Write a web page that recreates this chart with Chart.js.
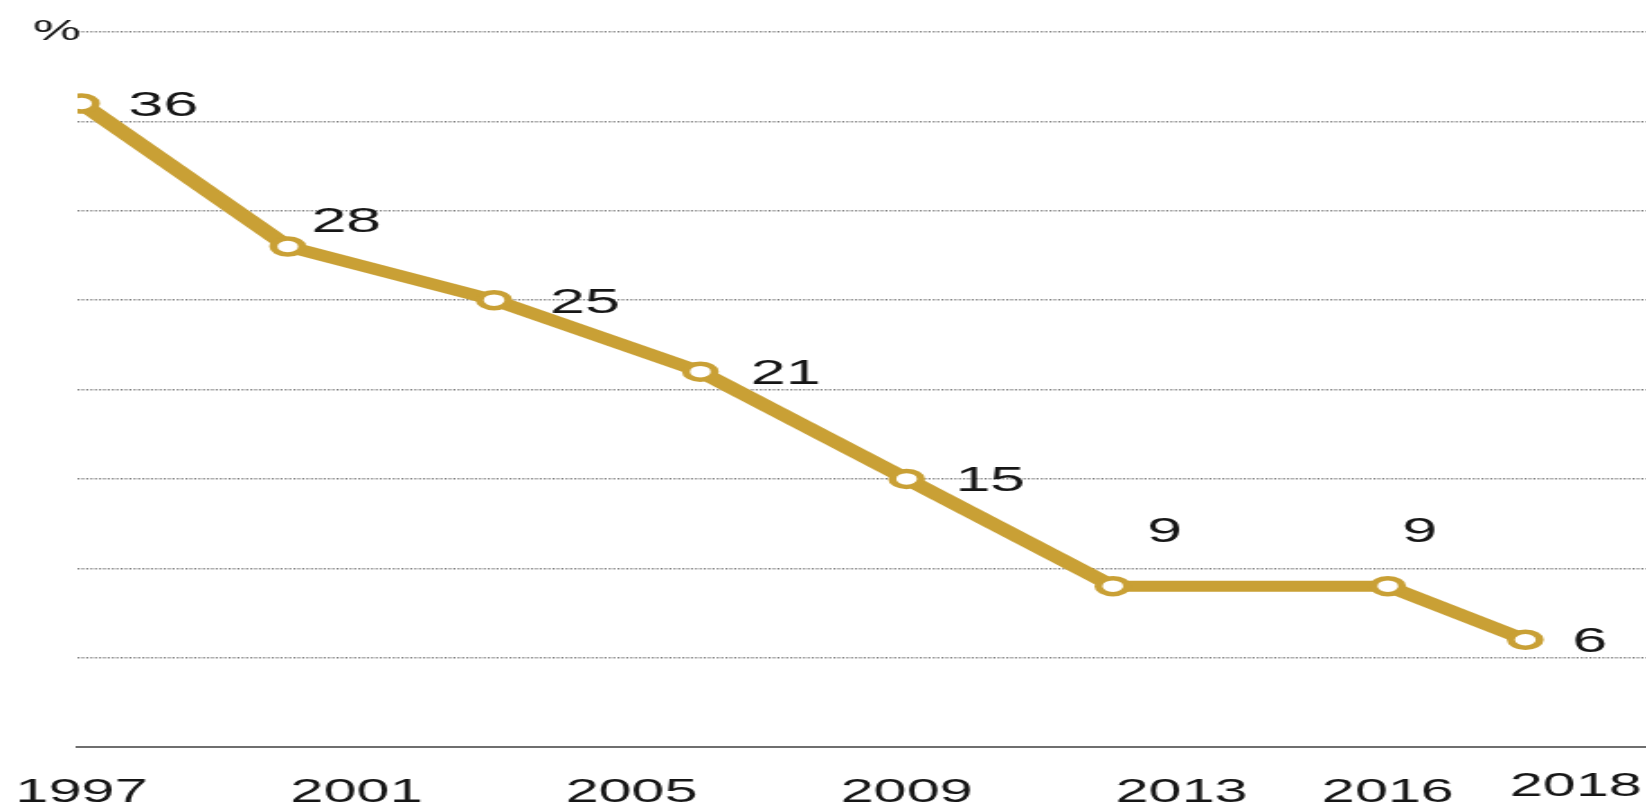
<!DOCTYPE html>
<html>
<head>
<meta charset="utf-8">
<script src="https://cdn.jsdelivr.net/npm/chart.js@4.4.1/dist/chart.umd.min.js"></script>
<style>
  html, body { margin: 0; padding: 0; background: #fff; overflow: hidden; }
  /* the reference is stretched sideways, so the chart is drawn narrow and widened */
  #wrap { width: 915px; height: 805px; transform: scaleX(1.8); transform-origin: 0 0; }
</style>
</head>
<body>
<div id="wrap"><canvas id="chart"></canvas></div>
<script>
const years = [1997, 2000, 2003, 2006, 2009, 2012, 2016, 2018];
const values = [36, 28, 25, 21, 15, 9, 9, 6];
const tickYears = [1997, 2001, 2005, 2009, 2013, 2016, 2018];
const yTicks = [0, 5, 10, 15, 20, 25, 30, 35, 40];

// where each value label sits relative to its point
const labelDx = [26, 13, 31, 28, 27, 19, 8, 26];
const labelDy = [0, -27, 0, 0, 0, -57, -57, 0];

const gold = '#C9A035';
const valueFont = '35px "Liberation Sans", Arial, sans-serif';
const yearFont = '33px "Liberation Sans", Arial, sans-serif';

const labelsPlugin = {
    id: 'labels',
    afterDatasetsDraw(chart) {
        const ctx = chart.ctx;
        const meta = chart.getDatasetMeta(0);
        const xs = chart.scales.x;
        const ys = chart.scales.y;
        ctx.save();
        ctx.fillStyle = '#161616';
        ctx.textBaseline = 'alphabetic';

        // value labels
        ctx.font = valueFont;
        ctx.textAlign = 'left';
        meta.data.forEach(function (pt, i) {
            ctx.fillText(String(values[i]), pt.x + labelDx[i], pt.y + labelDy[i] + 12.5);
        });

        // year labels under the axis
        ctx.font = yearFont;
        ctx.textAlign = 'center';
        tickYears.forEach(function (yr) {
            let x = xs.getPixelForValue(yr);
            let y = 802;
            if (yr === 2018) { x += 28; y = 796; }
            ctx.fillText(String(yr), x, y);
        });

        // unit label on the top grid line
        ctx.font = '30px "Liberation Sans", Arial, sans-serif';
        ctx.textAlign = 'right';
        ctx.fillText('%', 45, ys.getPixelForValue(40) + 8);
        ctx.restore();
    }
};

const ctx = document.getElementById('chart').getContext('2d');
const chart = new Chart(ctx, {
    type: 'line',
    data: {
        datasets: [{
            data: years.map(function (y, i) { return { x: y, y: values[i] }; }),
            borderColor: gold,
            borderWidth: 11,
            pointRadius: 8,
            pointBorderWidth: 4.5,
            pointBackgroundColor: '#fff',
            pointBorderColor: gold,
            pointHoverRadius: 8,
            tension: 0
        }]
    },
    options: {
        responsive: true,
        maintainAspectRatio: false,
        animation: false,
        layout: { autoPadding: false, padding: { left: 43, right: 0, top: 32, bottom: 58 } },
        plugins: {
            legend: { display: false },
            tooltip: { enabled: false }
        },
        scales: {
            x: {
                type: 'linear',
                min: 1996.94,
                max: 2019.77,
                ticks: { display: false },
                grid: { display: false, drawTicks: false },
                border: { display: true, color: '#6f6f6f', width: 2 }
            },
            y: {
                min: 0,
                max: 40,
                afterBuildTicks: function (axis) {
                    axis.ticks = yTicks.map(function (v) { return { value: v }; });
                },
                ticks: { display: false },
                grid: {
                    drawTicks: false,
                    lineWidth: 1.5,
                    color: function (c) { return c.tick && c.tick.value === 0 ? 'rgba(0,0,0,0)' : '#808080'; }
                },
                border: { display: false, dash: [1.2, 1.2] }
            }
        }
    },
    plugins: [labelsPlugin]
});
</script>
</body>
</html>
